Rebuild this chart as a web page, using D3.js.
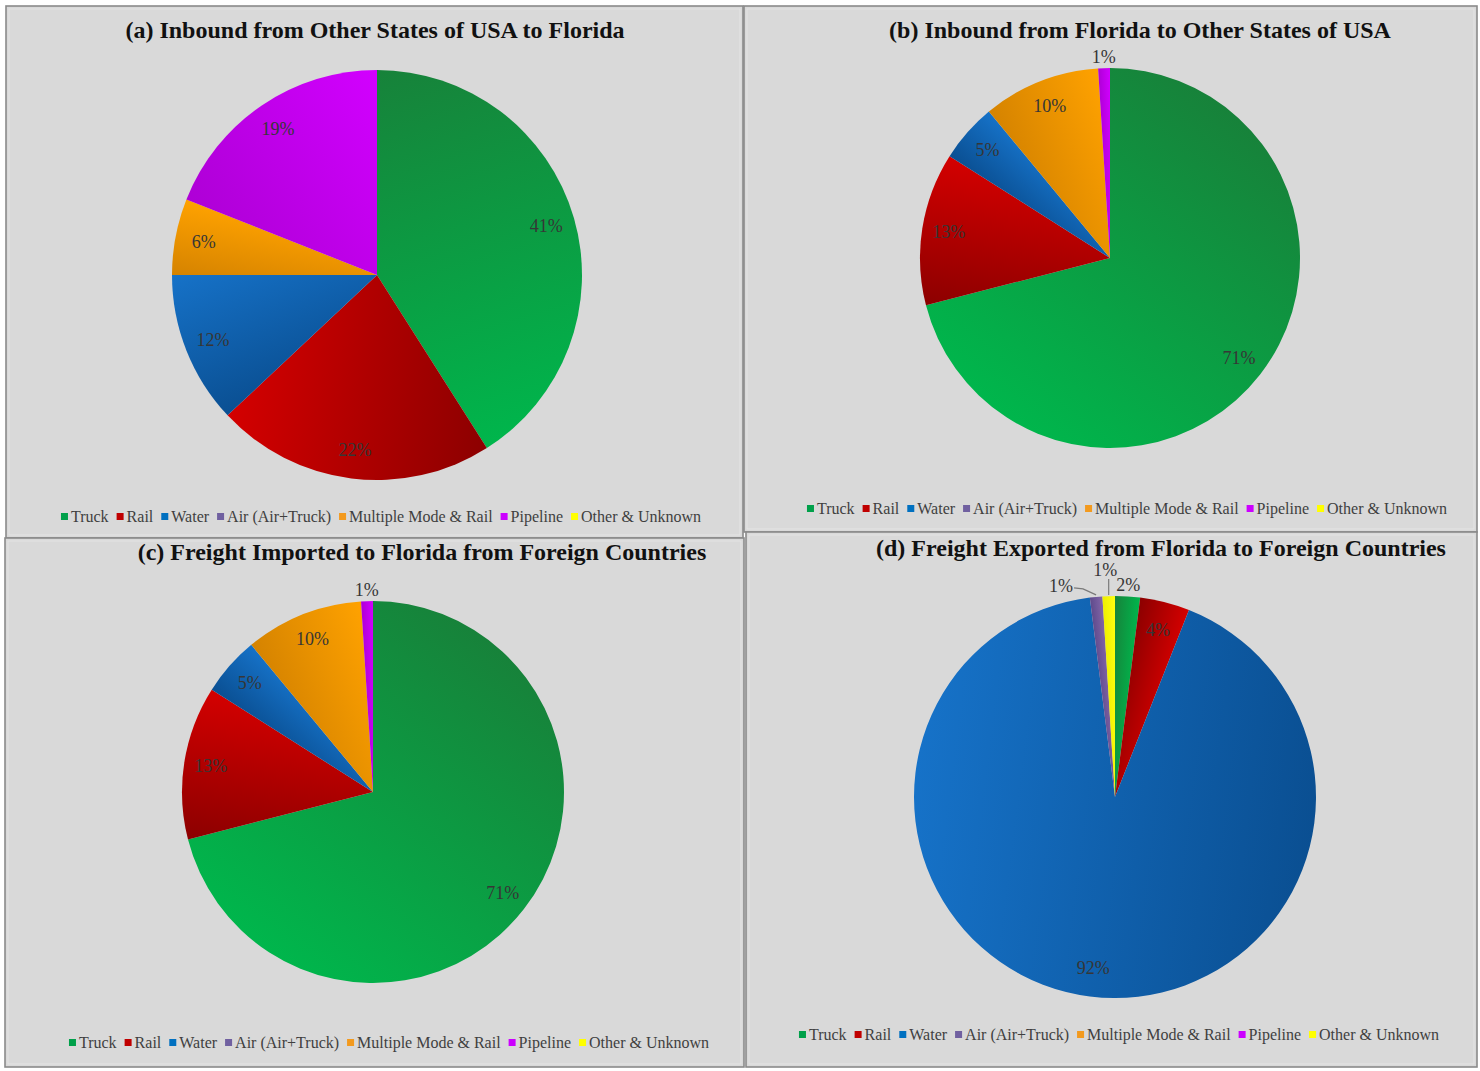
<!DOCTYPE html>
<html>
<head>
<meta charset="utf-8">
<script src="https://cdn.jsdelivr.net/npm/d3@7"></script>
<style>
  html, body { margin: 0; padding: 0; background: #ffffff; }
  svg { display: block; }
</style>
</head>
<body>
<svg id="chart" width="1480" height="1071"></svg>
<script>
// Freight mode shares (%), one array per panel, in category order
const categories = ["Truck", "Rail", "Water", "Air (Air+Truck)", "Multiple Mode & Rail", "Pipeline", "Other & Unknown"];
const inboundToFlorida    = [41, 22, 12, 0, 6, 19, 0];
const outboundFromFlorida = [71, 13, 5, 0, 10, 1, 0];
const importedForeign     = [71, 13, 5, 0, 10, 1, 0];
const exportedForeign     = [2, 4, 92, 1, 0, 0, 1];
const panelTitles = [
  "(a) Inbound from Other States of USA to Florida",
  "(b) Inbound from Florida to Other States of USA",
  "(c) Freight Imported to Florida from Foreign Countries",
  "(d) Freight Exported from Florida to Foreign Countries"
];

const FONT = "'Liberation Serif', 'Times New Roman', 'DejaVu Serif', serif";

// Fill styles per category: [dark edge, light edge, legend swatch]
const modeColors = [
  ["#17823a", "#00b64c", "#00a04a"],
  ["#8c0000", "#d40000", "#c00000"],
  ["#0a4f92", "#1672c8", "#0070c0"],
  ["#5e4a8c", "#8466a8", "#7060a0"],
  ["#d58300", "#ffa200", "#f39a1e"],
  ["#ae00d6", "#d200ff", "#cc00ff"],
  ["#eeee00", "#ffff10", "#ffff00"]
];

// Panel geometry
const panels = [
  { values: inboundToFlorida,    box: [6, 6, 743, 538],      c: [377, 275],  r: 205, title: [375, 38],  legend: [381, 517] },
  { values: outboundFromFlorida, box: [744, 6, 1477, 532],   c: [1110, 258], r: 190, title: [1140, 38], legend: [1127, 509] },
  { values: importedForeign,     box: [5, 538, 744, 1067],   c: [373, 792],  r: 191, title: [422, 560], legend: [389, 1043] },
  { values: exportedForeign,     box: [746, 532, 1477, 1067], c: [1115, 797], r: 201, title: [1161, 556], legend: [1119, 1035] }
];

// Hand placement for crowded outside labels in panel (d): [dx, dy]
const labelNudges = { 3: { 3: [-34, 0], 6: [-3, -15] } };

const svg = d3.select("#chart");
const defs = svg.append("defs");

const pie = d3.pie().sort(null).value(d => d).startAngle(0).endAngle(2 * Math.PI);
const dir = a => [Math.sin(a), -Math.cos(a)];

panels.forEach((p, pi) => {
  const g = svg.append("g");
  const [x0, y0, x1, y1] = p.box;

  g.append("rect")
    .attr("x", x0).attr("y", y0).attr("width", x1 - x0).attr("height", y1 - y0)
    .attr("fill", "#d9d9d9").attr("stroke", "#8a8a8a").attr("stroke-width", 1.6);
  g.append("rect")
    .attr("x", x0 + 3).attr("y", y0 + 3).attr("width", x1 - x0 - 6).attr("height", y1 - y0 - 6)
    .attr("fill", "none").attr("stroke", "#e4e4e4").attr("stroke-width", 1);

  g.append("text")
    .attr("x", p.title[0]).attr("y", p.title[1])
    .attr("text-anchor", "middle")
    .attr("font-family", FONT)
    .attr("font-size", 24).attr("font-weight", "bold").attr("fill", "#111")
    .text(panelTitles[pi]);

  const arcs = pie(p.values).map((d, i) => Object.assign(d, { idx: i }));
  const arc = d3.arc().innerRadius(0).outerRadius(p.r);
  const [cx, cy] = p.c;
  const pg = g.append("g").attr("transform", `translate(${cx},${cy})`);

  // Each slice shades from its leading edge (darker) to its trailing edge (lighter)
  arcs.filter(d => d.value > 0).forEach(d => {
    const mid = (d.startAngle + d.endAngle) / 2;
    const span = d.endAngle - d.startAngle;
    const w = p.r * Math.sin(Math.min(span / 2, Math.PI / 2));
    const a = dir(mid - Math.PI / 2), b = dir(mid + Math.PI / 2);
    const id = `grad-${pi}-${d.idx}`;
    const lg = defs.append("linearGradient").attr("id", id)
      .attr("gradientUnits", "userSpaceOnUse")
      .attr("x1", w * a[0]).attr("y1", w * a[1])
      .attr("x2", w * b[0]).attr("y2", w * b[1]);
    lg.append("stop").attr("offset", 0).attr("stop-color", modeColors[d.idx][0]);
    lg.append("stop").attr("offset", 1).attr("stop-color", modeColors[d.idx][1]);
    pg.append("path").attr("d", arc(d)).attr("fill", `url(#${id})`);
  });

  // Percentage labels: inside for larger slices, outside for thin ones
  const inner = d3.arc().innerRadius(p.r * 0.86).outerRadius(p.r * 0.86);
  arcs.filter(d => d.value > 0).forEach(d => {
    const mid = (d.startAngle + d.endAngle) / 2;
    let x, y;
    const outside = d.value < 3;
    if (outside) {
      const u = dir(mid);
      x = u[0] * (p.r + 11); y = u[1] * (p.r + 11);
    } else {
      [x, y] = inner.centroid(d);
    }
    const nudge = labelNudges[pi] && labelNudges[pi][d.idx];
    if (nudge) {
      const ex = dir(mid)[0] * p.r, ey = dir(mid)[1] * p.r;
      const lx = x + nudge[0], ly = y + nudge[1];
      let pts;
      if (Math.abs(nudge[0]) > Math.abs(nudge[1])) {
        pts = [[lx + 13, ly + 2], [lx + 22, ly + 3], [ex, ey - 2]];
      } else {
        pts = [[ex, ly + 9], [ex, ey - 1]];
      }
      pg.append("path").attr("d", d3.line()(pts))
        .attr("fill", "none").attr("stroke", "#7a7a7a").attr("stroke-width", 1.2);
      x = lx; y = ly;
    }
    pg.append("text")
      .attr("x", x).attr("y", y)
      .attr("text-anchor", "middle").attr("dominant-baseline", "central")
      .attr("font-family", FONT)
      .attr("font-size", 18).attr("fill", "#363636")
      .text(d.value + "%");
  });

  // Legend row, centred on the panel's legend anchor
  const lgd = g.append("g");
  const items = categories.map((name, i) => {
    const it = lgd.append("g");
    it.append("rect").attr("width", 7).attr("height", 7).attr("y", -9)
      .attr("fill", modeColors[i][2]);
    const t = it.append("text").attr("x", 10).attr("y", 0)
      .attr("font-family", FONT)
      .attr("font-size", 16).attr("fill", "#3f3f3f").text(name);
    return { it, w: 10 + t.node().getComputedTextLength() };
  });
  const gap = 8;
  const total = d3.sum(items, d => d.w) + gap * (items.length - 1);
  let xpos = p.legend[0] - total / 2;
  items.forEach(d => {
    d.it.attr("transform", `translate(${xpos},${p.legend[1] + 5})`);
    xpos += d.w + gap;
  });
});
</script>
</body>
</html>
